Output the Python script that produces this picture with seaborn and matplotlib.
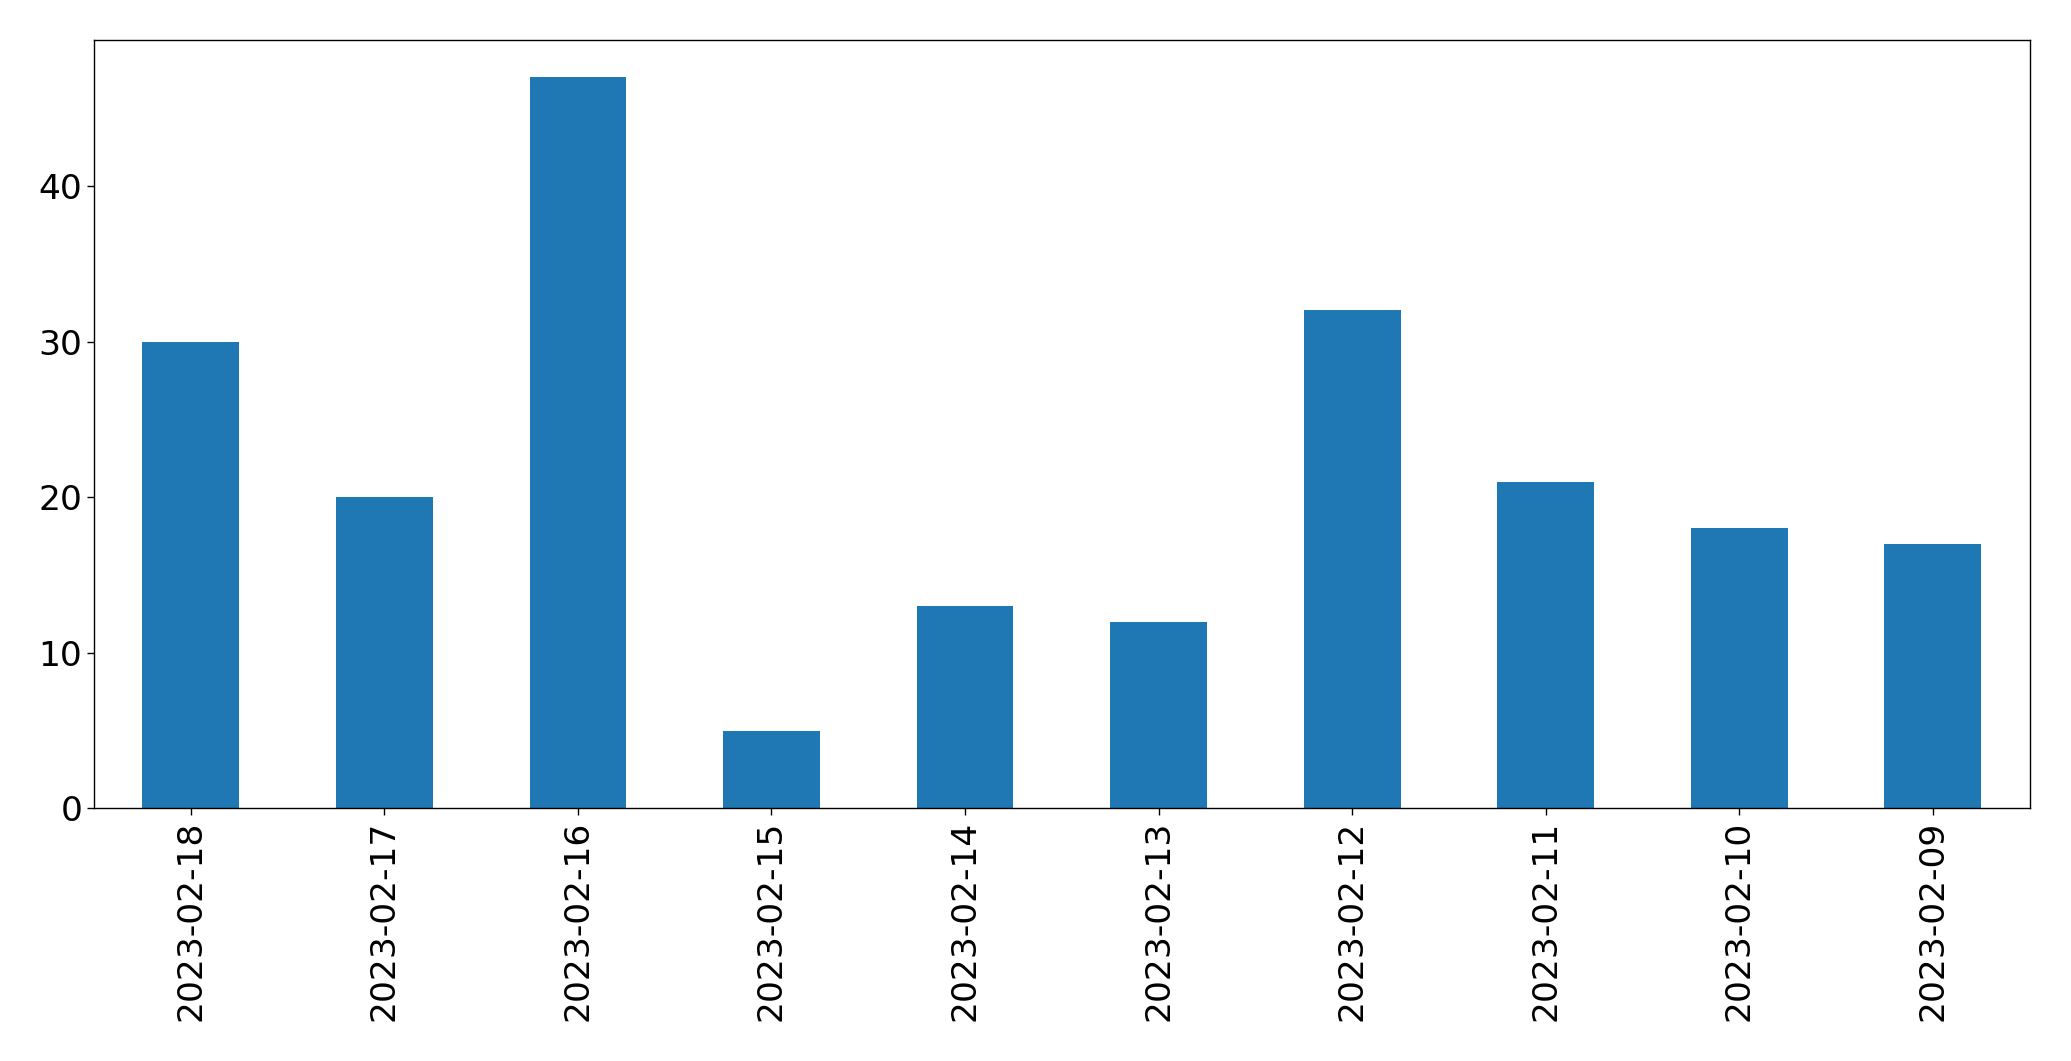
import numpy as np
import pandas as pd
import matplotlib
matplotlib.use('Agg')
import matplotlib.pyplot as plt
import seaborn as sns

dates = ['2023-02-18', '2023-02-17', '2023-02-16', '2023-02-15', '2023-02-14',
         '2023-02-13', '2023-02-12', '2023-02-11', '2023-02-10', '2023-02-09']
counts = [30, 20, 47, 5, 13, 12, 32, 21, 18, 17]

df = pd.DataFrame({'date': dates, 'count': counts})

sns.set_style('ticks')
plt.rcParams['font.family'] = ['DejaVu Sans']

fig, ax = plt.subplots(figsize=(20.71, 10.61), dpi=100)
sns.barplot(data=df, x='date', y='count', order=dates, color='#1f77b4',
            saturation=1, width=0.5, linewidth=0, edgecolor='none', ax=ax)

ax.set_xlim(-0.5, len(dates) - 0.5)
ax.set_ylim(0, max(counts) * 1.05)
ax.set_xlabel('')
ax.set_ylabel('')
ax.set_yticks([0, 10, 20, 30, 40])
ax.tick_params(axis='both', labelsize=24.8, length=5, width=1, colors='black')
plt.setp(ax.get_xticklabels(), rotation=90)
for s in ax.spines.values():
    s.set_visible(True)
    s.set_color('black')
    s.set_linewidth(1)

fig.subplots_adjust(left=0.0454, right=0.980, top=0.962, bottom=0.238)
fig.savefig('out.png', dpi=100)
